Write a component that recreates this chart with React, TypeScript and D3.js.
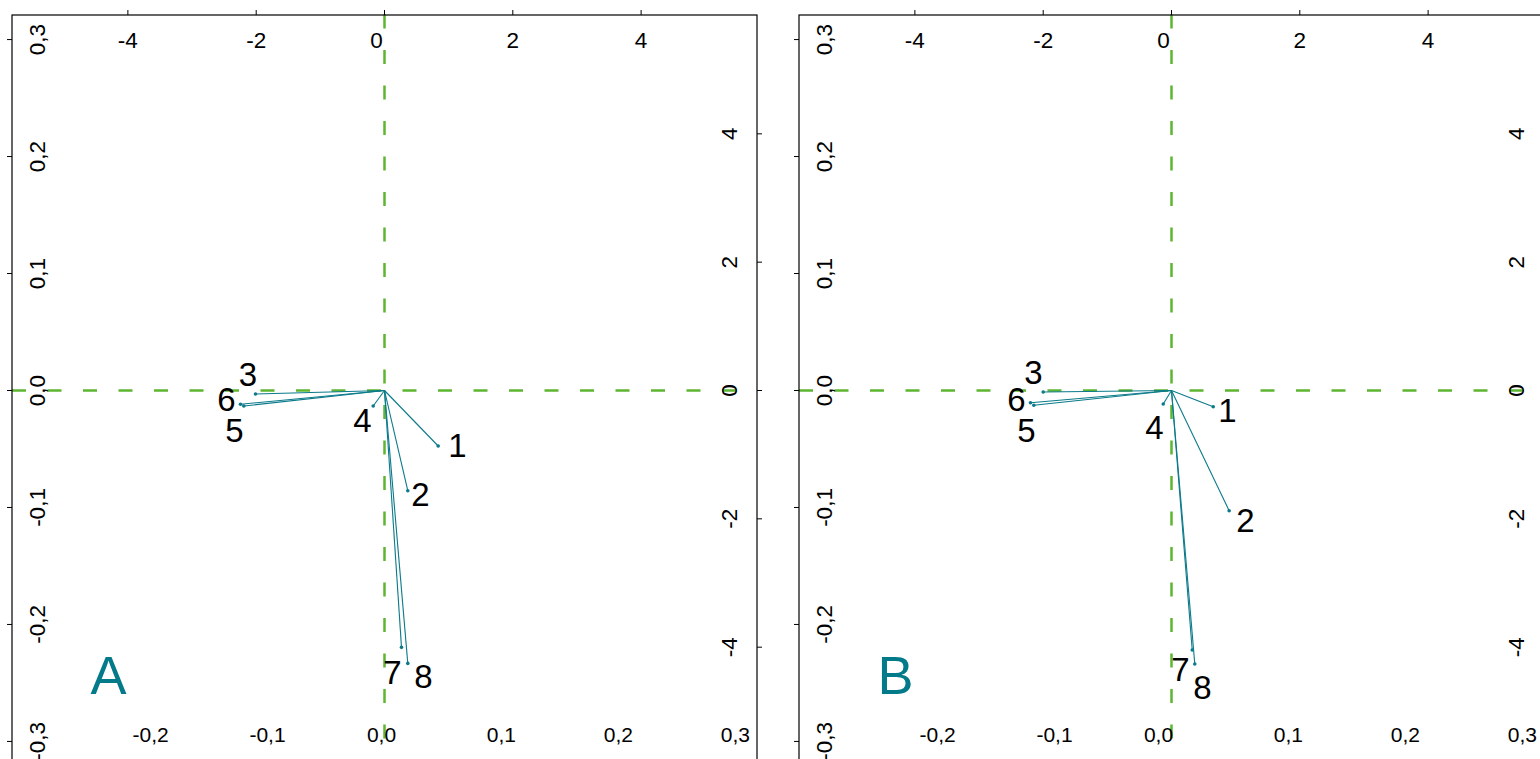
import React from "react";
import * as d3 from "d3";

// ---- data ----
const varLabels = ["1", "2", "3", "4", "5", "6", "7", "8"];
// panel A loadings (arrow tips) and label positions, in loading units
const loadAx = [0.837, 0.363, -2.011, -0.176, -2.193, -2.245, 0.265, 0.363];
const loadAy = [-0.865, -1.562, -0.055, -0.242, -0.242, -0.215, -4.003, -4.253];
const labAx = [1.138, 0.561, -2.128, -0.343, -2.338, -2.463, 0.125, 0.608];
const labAy = [-0.85, -1.613, 0.242, -0.46, -0.616, -0.148, -4.388, -4.45];
// panel B
const loadBx = [0.65, 0.899, -2.0, -0.129, -2.146, -2.198, 0.323, 0.363];
const loadBy = [-0.253, -1.874, -0.023, -0.21, -0.231, -0.19, -4.045, -4.263];
const labBx = [0.873, 1.154, -2.151, -0.265, -2.26, -2.416, 0.14, 0.483];
const labBy = [-0.304, -2.019, 0.273, -0.569, -0.631, -0.133, -4.341, -4.63];

const scoreTicks = [-0.3, -0.2, -0.1, 0, 0.1, 0.2, 0.3];
const bottomTicks = [-0.2, -0.1, 0, 0.1, 0.2, 0.3];
const loadingTicks = [-4, -2, 0, 2, 4];
const panelNames = ["A", "B"];

const TEAL = "#0b7a8a";
const GREEN = "#5db531";
const FONT = "'Liberation Sans', Arial, sans-serif";

const fmtScore = (v: number) => (Math.abs(v) < 1e-9 ? "0,0" : v.toFixed(1).replace(".", ","));

function Panel({ off, name, lx0, ly0, tx, ty, zeroShift }: any) {
  const left = 12 + off, right = 757 + off, top = 15, bottom = 766;
  const xLim = 0.3185, yLim = 0.321, ratio = 18.23;
  const sx = d3.scaleLinear().domain([-xLim, xLim]).range([left, right]);
  const sy = d3.scaleLinear().domain([yLim, -yLim]).range([top, bottom]);
  const lx = d3.scaleLinear().domain([-xLim * ratio, xLim * ratio]).range([left, right]);
  const ly = d3.scaleLinear().domain([yLim * ratio, -yLim * ratio]).range([top, bottom]);
  const ox = lx(0), oy = ly(0);
  return (
    <g>
      {/* reference lines */}
      <line x1={left} x2={right} y1={sy(0)} y2={sy(0)} stroke={GREEN} strokeWidth={2.5} strokeDasharray="14,21.5" />
      <line x1={sx(0)} x2={sx(0)} y1={top - 0.5} y2={bottom} stroke={GREEN} strokeWidth={2.5} strokeDasharray="14,21.5" />
      {/* box */}
      <rect x={left} y={top} width={right - left} height={bottom - top} fill="none" stroke="#000" strokeWidth={1.2} />
      {/* left axis */}
      {scoreTicks.map((t) => (
        <g key={"l" + t}>
          <line x1={left - 5} x2={left} y1={sy(t)} y2={sy(t)} stroke="#000" />
          <text transform={`translate(${left + 33},${sy(t)}) rotate(-90)`} textAnchor="middle" fontSize={22.5} fontFamily={FONT}>
            {fmtScore(t)}
          </text>
        </g>
      ))}
      {/* bottom axis */}
      {bottomTicks.map((t) => (
        <text key={"b" + t} x={sx(t) + (t === 0 ? zeroShift : 0)} y={741.5} textAnchor="middle" fontSize={21} fontFamily={FONT}>
          {fmtScore(t)}
        </text>
      ))}
      {/* top axis */}
      {loadingTicks.map((t) => (
        <g key={"t" + t}>
          <line x1={lx(t)} x2={lx(t)} y1={top - 5} y2={top} stroke="#000" />
          <text x={lx(t) + (t === 0 ? -8 : 0)} y={48} textAnchor="middle" fontSize={22.5} fontFamily={FONT}>
            {String(t)}
          </text>
        </g>
      ))}
      {/* right axis */}
      {loadingTicks.map((t) => (
        <g key={"r" + t}>
          <line x1={right} x2={right + 5} y1={ly(t)} y2={ly(t)} stroke="#000" />
          <text transform={`translate(${right - 20},${ly(t)}) rotate(-90)`} textAnchor="middle" fontSize={22.5} fontFamily={FONT}>
            {String(t)}
          </text>
        </g>
      ))}
      {/* arrows */}
      {varLabels.map((lab, i) => (
        <g key={"a" + lab}>
          <line x1={ox} y1={oy} x2={lx(lx0[i])} y2={ly(ly0[i])} stroke={TEAL} strokeWidth={1.1} />
          <circle cx={lx(lx0[i])} cy={ly(ly0[i])} r={1.8} fill={TEAL} />
          <text x={lx(tx[i])} y={ly(ty[i])} textAnchor="middle" dominantBaseline="central" fontSize={33} fontFamily={FONT}>
            {lab}
          </text>
        </g>
      ))}
      <text x={sx(-0.236)} y={694} textAnchor="middle" fontSize={54} fill="#037a8a" fontFamily={FONT}>
        {name}
      </text>
    </g>
  );
}

export default function App() {
  return (
    <svg width={1540} height={759} style={{ position: "absolute", left: 0, top: 0, background: "#fff" }}>
      <rect x={0} y={0} width={1540} height={759} fill="#fff" />
      <Panel off={0} name={panelNames[0]} lx0={loadAx} ly0={loadAy} tx={labAx} ty={labAy} zeroShift={-3} />
      <Panel off={787} name={panelNames[1]} lx0={loadBx} ly0={loadBy} tx={labBx} ty={labBy} zeroShift={-13} />
    </svg>
  );
}
